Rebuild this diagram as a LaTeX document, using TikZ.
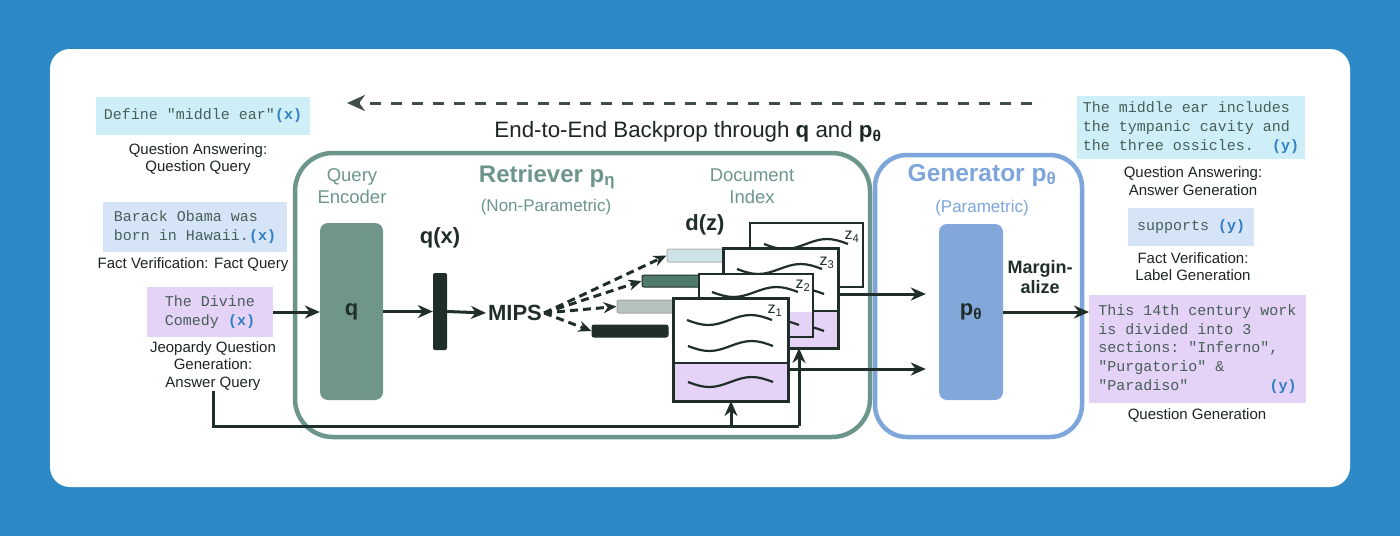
\documentclass[tikz,border=0pt]{standalone}
\usepackage{fontspec}
\setmainfont{Liberation Sans}
\setmonofont{Liberation Mono}
\usetikzlibrary{arrows.meta}
\definecolor{bgblue}{RGB}{46,137,199}
\definecolor{retg}{RGB}{108,150,140}
\definecolor{qfill}{RGB}{112,150,140}
\definecolor{genb}{RGB}{126,166,219}
\definecolor{pfill}{RGB}{130,168,218}
\definecolor{dk}{RGB}{32,46,42}
\definecolor{cyanbox}{RGB}{207,239,248}
\definecolor{bluebox}{RGB}{214,228,248}
\definecolor{lav}{RGB}{228,210,247}
\definecolor{xyb}{RGB}{47,128,196}
\definecolor{monotxt}{RGB}{72,94,88}
\definecolor{captxt}{RGB}{28,38,36}
\definecolor{barAc}{RGB}{205,227,229}
\definecolor{barBc}{RGB}{80,122,110}
\definecolor{barCc}{RGB}{180,193,189}
\newcommand\xy[1]{\textcolor{xyb}{\bfseries #1}}
\newcommand\wave[3]{\draw[wv] (#1,#2) sin ({#1+#3/4},{#2+5}) cos ({#1+#3/2},#2) sin ({#1+3*#3/4},{#2-5}) cos ({#1+#3},#2);}
\begin{document}
\begin{tikzpicture}[x=1pt,y=-1pt,
  captn/.style={font=\fontsize{15}{17.5}\selectfont, align=center, text=captxt, inner sep=0pt},
  mono/.style={font=\fontsize{15}{18.7}\selectfont\ttfamily, text=monotxt, inner sep=0pt, outer sep=0pt},
  arr/.style={draw=dk, line width=3pt, -{Stealth[length=15pt,width=13pt]}},
  plainln/.style={draw=dk, line width=3pt},
  darr/.style={draw=dk, line width=3pt, dash pattern=on 8pt off 5pt, -{Stealth[length=13pt,width=11pt]}},
  wv/.style={draw=dk, line width=2.2pt},
  docbg/.style={fill=white, inner sep=0pt, outer sep=0pt},
  thickb/.style={draw=dk, line width=3pt},
  thinb/.style={draw=dk, line width=1.5pt},
  zl/.style={font=\fontsize{16}{16}\selectfont, text=dk, inner sep=0pt},
  bar/.style={rounded corners=2pt, line width=1pt},
]
\useasboundingbox (0,0) rectangle (1400,536);
\fill[bgblue] (0,0) rectangle (1400,536);
\fill[white, rounded corners=20pt] (50,49) rectangle (1350,487);

% containers
\draw[retg, line width=4.5pt, rounded corners=38pt] (295,153) rectangle (870,437);
\draw[genb, line width=4.5pt, rounded corners=32pt] (875,155) rectangle (1082,437);

% backprop arrow
\coordinate (bpR) at (1032,103);
\coordinate (bpL) at (347,103);
\draw[draw=dk!85, line width=3pt, dash pattern=on 11pt off 10pt, -{Stealth[length=18pt,width=16pt]}] (bpR) -- (bpL);
\node[font=\fontsize{22.3}{26}\selectfont, text=captxt, inner sep=0pt] (bptxt) at (688,132) {End-to-End Backprop through \textbf{q} and \textbf{p\textsubscript{θ}}};

% left inputs
\node[mono, fill=cyanbox, minimum width=214pt, minimum height=38pt] (b1) at (203,116) {Define "middle ear"\xy{(x)}};
\node[captn] (c1) at (198,159) {Question Answering:\\Question Query};
\node[mono, fill=bluebox, minimum width=184pt, minimum height=50pt, align=left] (b2) at (195,227) {Barack Obama was\\born in Hawaii.\xy{(x)}};
\node[captn] (c2) at (193,265) {Fact Verification: Fact Query};
\node[mono, fill=lav, minimum width=126pt, minimum height=50pt, align=left] (b3) at (210,312) {The Divine\\Comedy \xy{(x)}};
\node[captn] (c3) at (213,366) {Jeopardy Question\\Generation:\\Answer Query};

% retriever content
\node[font=\fontsize{18.5}{22}\selectfont, text=retg, align=center, inner sep=0pt] (qe) at (352,186) {Query\\Encoder};
\node[font=\fontsize{24}{26}\selectfont\bfseries, text=retg, inner sep=0pt] (rt) at (547,177) {Retriever p\textsubscript{η}};
\node[font=\fontsize{17}{20}\selectfont, text=retg, inner sep=0pt] (rnp) at (546,207) {(Non-Parametric)};
\node[font=\fontsize{18.5}{22}\selectfont, text=retg, align=center, inner sep=0pt] (di) at (752,186) {Document\\Index};
\node[fill=qfill, rounded corners=8pt, minimum width=63pt, minimum height=177pt, inner sep=0pt, font=\fontsize{22}{22}\selectfont\bfseries, text=dk] (qbox) at (351.5,311.5) {q};
\node[fill=dk, rounded corners=2pt, minimum width=14pt, minimum height=77pt, inner sep=0pt] (qx) at (440,311.5) {};
\node[font=\fontsize{22}{22}\selectfont\bfseries, text=dk, inner sep=0pt] (qxl) at (440,238) {q(x)};
\node[font=\fontsize{22}{22}\selectfont\bfseries, text=dk, inner sep=2pt] (mips) at (515,313) {MIPS};
\node[font=\fontsize{22}{22}\selectfont\bfseries, text=dk, inner sep=0pt] (dz) at (705,225) {d(z)};

\draw[arr] (b3.east) -- (qbox.west |- b3.east);
\draw[arr] (qbox.east) -- (qx.west);
\draw[arr] (qx.east) -- (mips.west);

% bars
\node[bar, fill=barAc, draw=gray!60, minimum width=63pt, minimum height=13pt, inner sep=0pt] (barA) at (698.5,255.5) {};
\node[bar, fill=barBc, draw=dk, minimum width=63pt, minimum height=12pt, inner sep=0pt] (barB) at (673.5,281) {};
\node[bar, fill=barCc, draw=gray!70, minimum width=63pt, minimum height=13pt, inner sep=0pt] (barC) at (648.5,306.5) {};
\node[bar, fill=dk, draw=dk, minimum width=76pt, minimum height=12pt, inner sep=0pt] (barD) at (630,331) {};
\draw[darr] (mips.east) -- (barA.west);
\draw[darr] (mips.east) -- (barB.west);
\draw[darr] (mips.east) -- (barC.west);
\draw[darr] (mips.east) -- (barD.west);

% documents
\node[docbg, minimum width=113pt, minimum height=64pt] (doc4) at (806.5,255) {};
\wave{764}{244}{84}
\draw[thinb] (doc4.north west) rectangle (doc4.south east);
\node[zl] (z4) at (852,237) {z\textsubscript{4}};

\node[docbg, minimum width=115pt, minimum height=100pt] (doc3) at (780.5,298) {};
\fill[lav] (723,311) rectangle (838,348);
\wave{737}{269}{85}
\wave{739}{294}{85}
\wave{739}{331}{85}
\draw[dk, line width=1.5pt] (723,311) -- (838,311);
\draw[thickb] (doc3.north west) rectangle (doc3.south east);
\node[zl] (z3) at (827,263) {z\textsubscript{3}};

\node[docbg, minimum width=114pt, minimum height=63pt] (doc2) at (756,305.5) {};
\fill[lav] (699,312) rectangle (813,337);
\wave{712}{292}{86}
\wave{713}{325}{86}
\draw[thinb] (doc2.north west) rectangle (doc2.south east);
\node[zl] (z2) at (803,286) {z\textsubscript{2}};

\node[docbg, minimum width=115pt, minimum height=103pt] (doc1) at (730.5,349.5) {};
\fill[lav] (673,363) rectangle (788,401);
\wave{687}{320}{85}
\wave{688}{346}{85}
\wave{688}{382}{85}
\draw[dk, line width=1.5pt] (673,363) -- (788,363);
\draw[thickb] (doc1.north west) rectangle (doc1.south east);
\node[zl] (z1) at (775,311) {z\textsubscript{1}};

% bottom feed from Jeopardy
\coordinate (br2) at (799,426);
\coordinate (br1) at (731,426);
\draw[plainln] (c3.south) |- (br2);
\draw[arr] (br2) -- (br2 |- doc3.south);
\draw[arr] (br1) -- (br1 |- doc1.south);

% generator
\node[font=\fontsize{24.5}{26}\selectfont\bfseries, text=genb, inner sep=0pt] (gt) at (982,175) {Generator p\textsubscript{θ}};
\node[font=\fontsize{17}{20}\selectfont, text=genb, inner sep=0pt] (gp) at (982,208) {(Parametric)};
\node[fill=pfill, rounded corners=8pt, minimum width=64pt, minimum height=176pt, inner sep=0pt, font=\fontsize{22}{22}\selectfont\bfseries, text=dk] (pbox) at (971,312) {p\textsubscript{θ}};
\node[font=\fontsize{18}{20}\selectfont\bfseries, text=dk, align=center, inner sep=0pt] (marg) at (1040,277) {Margin-\\alize};
\coordinate (g1) at (838,294);
\coordinate (g2) at (788,369);
\draw[arr] (g1) -- ([xshift=-13pt]g1 -| pbox.west);
\draw[arr] (g2) -- ([xshift=-13pt]g2 -| pbox.west);

% right outputs
\node[mono, fill=cyanbox, minimum width=228pt, minimum height=63pt, align=left] (b4) at (1191,127.5) {The middle ear includes\\the tympanic cavity and\\the three ossicles.~~\xy{(y)}};
\node[captn] (c4) at (1193,181) {Question Answering:\\Answer Generation};
\node[mono, fill=bluebox, minimum width=126pt, minimum height=38pt] (b5) at (1191,227) {supports \xy{(y)}};
\node[captn] (c5) at (1193,266.5) {Fact Verification:\\Label Generation};
\node[mono, fill=lav, minimum width=217pt, minimum height=108pt, align=left] (b6) at (1197.5,349) {This 14th century work\\is divided into 3\\sections: "Inferno",\\"Purgatorio" \&\\"Paradiso"~~~~~~~~~\xy{(y)}};
\node[captn] (c6) at (1197,415) {Question Generation};
\draw[arr] (pbox.east) -- (b6.west |- pbox.east);
\end{tikzpicture}
\end{document}
